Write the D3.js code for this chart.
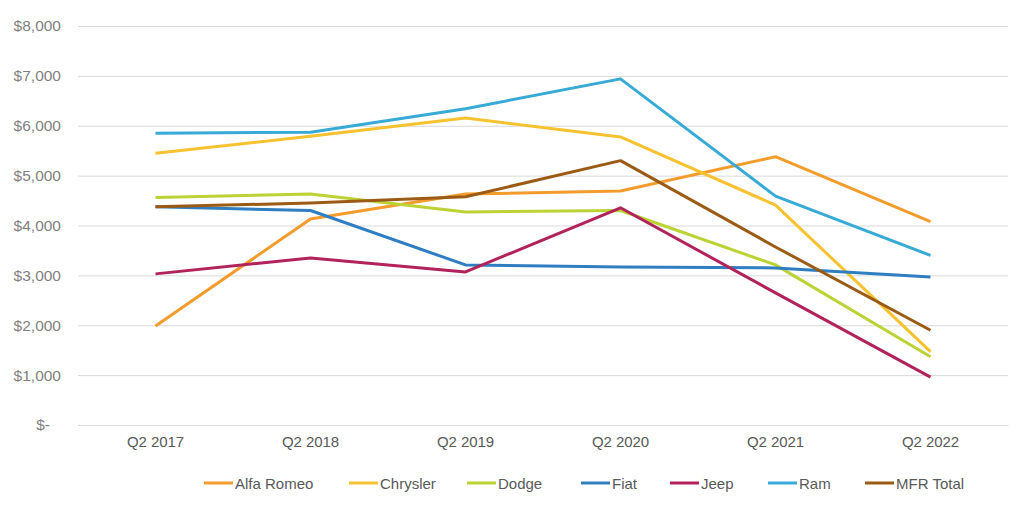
<!DOCTYPE html>
<html>
<head>
<meta charset="utf-8">
<script src="https://cdn.jsdelivr.net/npm/d3@7"></script>
<style>
  body { margin: 0; background: #fff; }
  text { font-family: "Liberation Sans", Arial, sans-serif; fill: #595959; }
</style>
</head>
<body>
<div class="chart"></div>
<script>
var svgWidth = 1024;
var svgHeight = 507;

var margin = { top: 26, right: 16, bottom: 82, left: 78 };
var width = svgWidth - margin.left - margin.right;
var height = svgHeight - margin.top - margin.bottom;

// data
var quarters = ["Q2 2017", "Q2 2018", "Q2 2019", "Q2 2020", "Q2 2021", "Q2 2022"];
var seriesNames = ["Alfa Romeo", "Chrysler", "Dodge", "Fiat", "Jeep", "Ram", "MFR Total"];
var alfaRomeo = [1985, 4130, 4630, 4690, 5380, 4080];
var chrysler = [5450, 5790, 6155, 5775, 4410, 1470];
var dodge = [4560, 4630, 4270, 4300, 3210, 1370];
var fiat = [4375, 4300, 3210, 3170, 3150, 2965];
var jeep = [3030, 3350, 3070, 4355, 2650, 960];
var ram = [5850, 5870, 6340, 6940, 4590, 3400];
var mfrTotal = [4375, 4450, 4575, 5300, 3570, 1900];
var yTicks = [0, 1000, 2000, 3000, 4000, 5000, 6000, 7000, 8000];

var seriesValues = [alfaRomeo, chrysler, dodge, fiat, jeep, ram, mfrTotal];
var colors = ["#F39C2C", "#F7C22F", "#BCD235", "#2E7EC1", "#B1235A", "#37AAD6", "#9B5B14"];

var svg = d3.select(".chart")
  .append("svg")
  .attr("width", svgWidth)
  .attr("height", svgHeight);

var chartGroup = svg.append("g")
  .attr("transform", `translate(${margin.left}, ${margin.top})`);

var xScale = d3.scaleBand()
  .domain(quarters)
  .range([0, width]);

var yScale = d3.scaleLinear()
  .domain([0, 8000])
  .range([height, 0]);

// gridlines + y labels
var leftAxis = d3.axisLeft(yScale)
  .tickValues(yTicks)
  .tickSize(-width)
  .tickPadding(17)
  .tickFormat(d => d === 0 ? "$-" : "$" + d3.format(",")(d));

var yAxis = chartGroup.append("g").call(leftAxis);
yAxis.select(".domain").remove();
yAxis.selectAll("line").attr("stroke", "#d9d9d9").attr("stroke-width", 1);
yAxis.selectAll("text").attr("font-size", 15.5).style("fill", "#7f7f7f");
// the zero label sits further left, like the original's padded format
yAxis.selectAll("text").filter(d => d === 0).attr("dx", -11);

var bottomAxis = d3.axisBottom(xScale).tickSize(0).tickPadding(11);
var xAxis = chartGroup.append("g")
  .attr("transform", `translate(0, ${height})`)
  .call(bottomAxis);
xAxis.select(".domain").attr("stroke", "#d9d9d9");
xAxis.selectAll("text").attr("font-size", 15).style("fill", "#595959").attr("textLength", 57);

var line = d3.line()
  .x((d, i) => xScale(quarters[i]) + xScale.bandwidth() / 2)
  .y(d => yScale(d));

seriesValues.forEach(function(vals, i) {
  chartGroup.append("path")
    .datum(vals)
    .attr("fill", "none")
    .attr("stroke", colors[i])
    .attr("stroke-width", 3)
    .attr("stroke-linejoin", "round")
    .attr("d", line);
});

// legend
var legendX = [204, 349, 467, 581, 670, 768, 865];
var legend = svg.append("g").attr("transform", "translate(0, 483)");
seriesNames.forEach(function(name, i) {
  legend.append("line")
    .attr("x1", legendX[i]).attr("x2", legendX[i] + 29)
    .attr("y1", 0).attr("y2", 0)
    .attr("stroke", colors[i])
    .attr("stroke-width", 3);
  legend.append("text")
    .attr("x", legendX[i] + 31)
    .attr("y", 5.5)
    .attr("font-size", 15)
    .text(name);
});
</script>
</body>
</html>
